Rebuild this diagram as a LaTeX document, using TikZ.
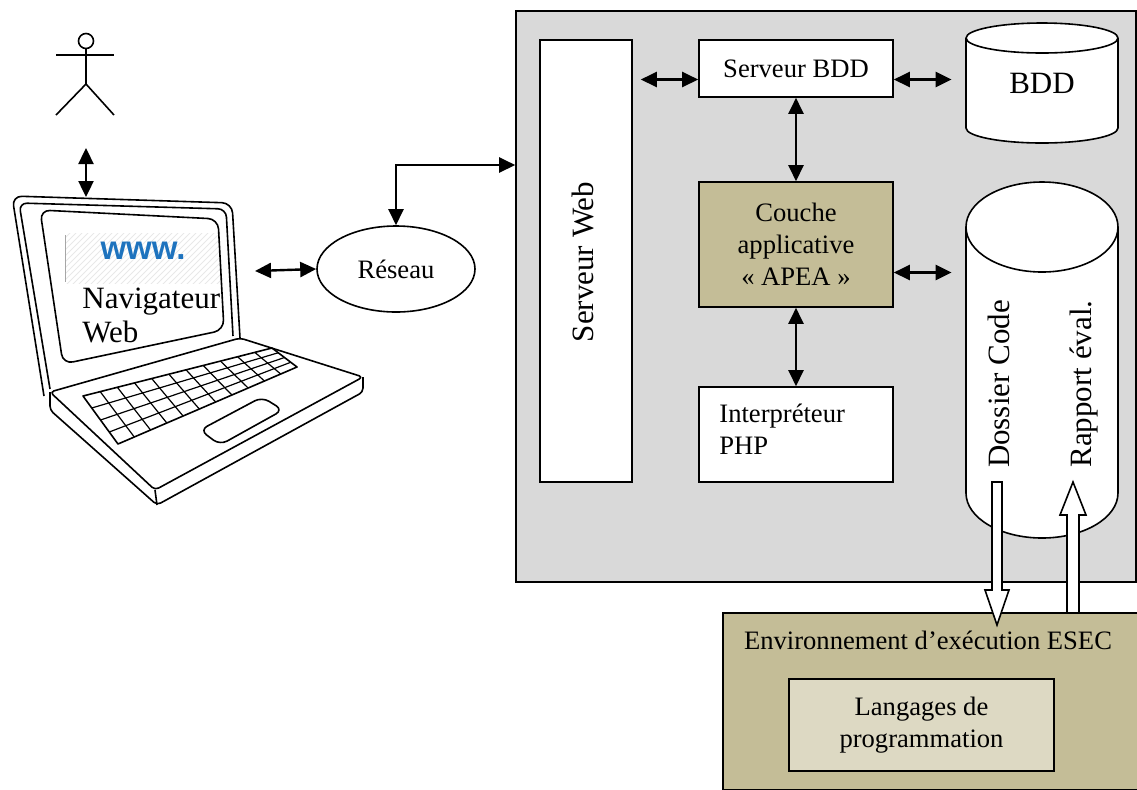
\documentclass[tikz,border=0pt]{standalone}
\usepackage{fontspec}
\setmainfont{Liberation Serif}
\newfontfamily\sansgras{Liberation Sans}
\usetikzlibrary{calc}
\usetikzlibrary{arrows.meta}
\usetikzlibrary{patterns}
\usetikzlibrary{shapes.geometric}

\definecolor{grisfond}{RGB}{217,217,217}
\definecolor{beige}{RGB}{196,189,151}
\definecolor{beigeclair}{RGB}{221,217,195}
\definecolor{bleuweb}{RGB}{30,115,190}

\tikzstyle{trait}  =[line width=0.8pt, line join=round]
\tikzstyle{boite}  =[draw, line width=0.8pt, fill=white, inner sep=0pt]
\tikzstyle{fleche} =[line width=1.2pt, {Triangle[length=8pt,width=7.5pt]}-{Triangle[length=8pt,width=7.5pt]}]
\tikzstyle{creux}  =[draw, line width=0.8pt, fill=white, line join=miter]
\tikzstyle{texte}  =[font=\fontsize{13.3}{16}\selectfont]
\tikzstyle{grand}  =[font=\fontsize{15.5}{17}\selectfont]

\begin{document}
\begin{tikzpicture}[x=0.5pt,y=-0.5pt]
\useasboundingbox (0,0) rectangle (1137,789);

%%%%%%%%%%%%%%%%%%%%%%%%
%l'utilisateur
%%%%%%%%%%%%%%%%%%%%%%%%
\begin{scope}[trait]
\draw (86,41) circle[radius=7.5];
\draw (56,55) -- (114,55);
\draw (86,48.5) -- (86,84);
\draw (56,115) -- (86,84) -- (114,115);
\end{scope}

\coordinate (pieds) at (86,148);
\coordinate (ecran) at (86,197);
\draw[fleche] (pieds) -- (ecran);

%%%%%%%%%%%%%%%%%%%%%%%%
%le portable
%%%%%%%%%%%%%%%%%%%%%%%%
\begin{scope}[trait]
%couvercle (double contour)
\draw[rounded corners=5pt] (44,396) -- (12,196) -- (232,203) -- (240,338);
\draw[rounded corners=4pt] (50,389) -- (19,203) -- (226,209) -- (233,336);
%écran
\fill[pattern=north east lines, pattern color=gray!18] (65,233) rectangle (220,283);
\draw[gray!70, line width=0.5pt] (65,235) -- (65,282);
\draw[rounded corners=5pt] (40,210) -- (218,219) -- (224,330) -- (63,364) -- cycle;
%base
\coordinate (A) at (50,392);
\coordinate (B) at (240,338);
\coordinate (C) at (363,377);
\coordinate (D) at (155,490);
\draw[rounded corners=2pt] (A) -- (B) -- (C) -- (D) -- cycle;
\draw[rounded corners=2pt] (C) -- (363,392) -- (157,505) -- (50,410) -- (A);
\draw (D) -- (157,505);
%clavier
\coordinate (K1) at (83,396);
\coordinate (K2) at (272,348);
\coordinate (K3) at (297,367);
\coordinate (K4) at (118,444);
\draw (K1) -- (K2) -- (K3) -- (K4) -- cycle;
\foreach \i in {1,2,3}
  \draw[line width=0.6pt] ($(K1)!\i/4!(K4)$) -- ($(K2)!\i/4!(K3)$);
\foreach \j in {1,...,10}
  \draw[line width=0.6pt] ($(K1)!\j/11!(K2)$) -- ($(K4)!\j/11!(K3)$);
%pavé tactile
\draw[rounded corners=4pt] (200,430) -- (262,397) -- (283,410) -- (220,445) -- cycle;
\end{scope}

\node[text=bleuweb, font=\sansgras\bfseries\fontsize{16.5}{18}\selectfont] (www) at (143,251) {www.};
\node[grand, anchor=north west, inner sep=0pt, align=left] (navigateur) at (82,288) {Navigateur\\Web};
\coordinate (pc) at (255,271);

%%%%%%%%%%%%%%%%%%%%%%%%
%le réseau
%%%%%%%%%%%%%%%%%%%%%%%%
\node[draw, ellipse, line width=0.8pt, minimum width=79pt, minimum height=43pt, inner sep=0pt, texte] (reseau) at (396,269) {Réseau};
\draw[fleche] (pc) -- (reseau.west);

%%%%%%%%%%%%%%%%%%%%%%%%
%le serveur
%%%%%%%%%%%%%%%%%%%%%%%%
\node[draw, line width=0.8pt, fill=grisfond, minimum width=310pt, minimum height=285.5pt] (serveur) at (826,296.5) {};
\draw[fleche] (reseau.north) |- (serveur.west |- 0,165);

\node[boite, minimum width=46pt, minimum height=221pt] (web) at (586,261) {};
\node[grand, rotate=90] at (583,262) {Serveur Web};

\node[boite, minimum width=97pt, minimum height=28.5pt, texte] (sbdd) at (796,68.5) {Serveur BDD};
\node[boite, fill=beige, minimum width=97pt, minimum height=62.5pt, texte, align=center] (couche) at (796,244.5) {Couche\\applicative\\« APEA »};
\node[boite, minimum width=97pt, minimum height=47.5pt] (php) at (796,434.5) {};
\node[texte, anchor=north west, inner sep=0pt, align=left] at (719,404) {Interpréteur\\PHP};

%base de données
\draw[trait, fill=white] (966,38) -- (966,128) arc[start angle=180, end angle=0, x radius=76, y radius=15] -- (1118,38);
\draw[trait, fill=white] (1042,38) ellipse[x radius=76, y radius=15];
\node[grand, minimum width=76pt, minimum height=60pt] (bdd) at (1042,83) {BDD};

%dépôt des fichiers
\draw[trait, fill=white] (966,227) -- (966,493) arc[start angle=180, end angle=0, x radius=76, y radius=45] -- (1118,227);
\draw[trait, fill=white] (1042,227) ellipse[x radius=76, y radius=45];
\node[minimum width=76pt, minimum height=177pt] (depot) at (1042,360) {};
\node[grand, rotate=90] at (999,384) {Dossier Code};
\node[grand, rotate=90] at (1084,384) {Rapport éval.};

%liaisons internes
\coordinate (y1) at ([yshift=-5.5pt]sbdd.west);
\coordinate (y2) at ([yshift=-5.5pt]sbdd.east);
\coordinate (y3) at ([yshift=-14pt]couche.east);
\draw[fleche, shorten >=4pt] (y1) -- (web.east |- y1);
\draw[fleche, shorten >=7pt] (y2) -- (depot.west |- y2);
\draw[fleche] (sbdd.south) -- (couche.north);
\draw[fleche] (couche.south) -- (php.north);
\draw[fleche, shorten >=7pt] (y3) -- (depot.west |- y3);

%%%%%%%%%%%%%%%%%%%%%%%%
%l'environnement d'exécution
%%%%%%%%%%%%%%%%%%%%%%%%
\node[draw, line width=0.8pt, fill=beige, minimum width=208.5pt, minimum height=88.5pt] (esec) at (931.5,701.5) {};
\node[texte] (titre) at (928,640) {Environnement d’exécution ESEC};
\node[boite, fill=beigeclair, minimum width=132.5pt, minimum height=46pt, texte, align=center] (langages) at (921.5,725) {Langages de\\programmation};

%flèches creuses
\draw[creux] (992,482) -- (1002,482) -- (1002,590) -- (1009,590) -- (997,625) -- (985,590) -- (992,590) -- cycle;
\draw[creux] (1067,613) -- (1067,515) -- (1060,515) -- (1073,482) -- (1086,515) -- (1079,515) -- (1079,613) -- cycle;

\end{tikzpicture}
\end{document}
